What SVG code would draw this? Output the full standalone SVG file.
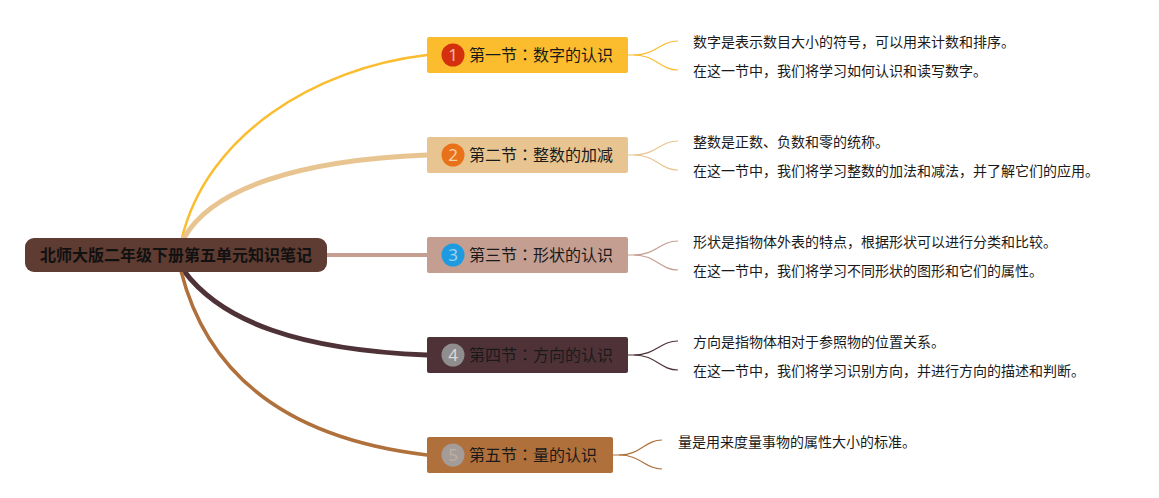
<svg xmlns="http://www.w3.org/2000/svg" width="1159" height="498" viewBox="0 0 1159 498">
<style>
text{font-family:"Noto Sans CJK SC","Liberation Sans",sans-serif;}
.nt{font-size:16px;fill:#1a1a1a;font-family:"Noto Sans CJK TC","Noto Sans CJK SC",sans-serif;}
.lf{font-size:14px;fill:#1a1a1a;}
.num{font-size:17px;text-anchor:middle;font-family:"Noto Sans","Liberation Sans",sans-serif;}
.c{fill:none;stroke-linecap:round;}
.lc{fill:none;stroke-width:1.2;}
</style>
<rect width="1159" height="498" fill="#ffffff"/>
<g id="connectors">
<path class="c" d="M182,238 C207,135 315,68 427,55" stroke="#FBBC2E" stroke-width="2.5"/>
<path class="c" d="M184,238 C212,188 300,160 427,155" stroke="#E8C590" stroke-width="5"/>
<path class="c" d="M327,255 L427,255" stroke="#C49E90" stroke-width="4"/>
<path class="c" d="M184,271 C222,322 300,350 427,355" stroke="#4E3237" stroke-width="5"/>
<path class="c" d="M181,271 C210,385 300,440 427,455" stroke="#B0703C" stroke-width="3.5"/>
<g stroke="#FBBC2E"><path class="lc" d="M628,55 L634,55 C656,55 660,41 678,41"/><path class="lc" d="M634,55 C656,55 660,70 678,70"/></g>
<g stroke="#E8C590"><path class="lc" d="M628,155 L634,155 C656,155 660,141 678,141"/><path class="lc" d="M634,155 C656,155 660,170 678,170"/></g>
<g stroke="#C49E90"><path class="lc" d="M628,255 L634,255 C656,255 660,241 678,241"/><path class="lc" d="M634,255 C656,255 660,270 678,270"/></g>
<g stroke="#4E3237"><path class="lc" d="M628,355 L634,355 C656,355 660,341 678,341"/><path class="lc" d="M634,355 C656,355 660,370 678,370"/></g>
<g stroke="#B0703C"><path class="lc" d="M613,455 L619,455 C641,455 645,440 662,440"/><path class="lc" d="M619,455 C641,455 645,469 662,469"/></g>
</g>
<g id="root">
<rect x="25" y="238" width="302" height="34" rx="9" fill="#5E3C31"/>
<text x="176" y="261" text-anchor="middle" style="font-size:16px;font-weight:bold;fill:#111">北师大版二年级下册第五单元知识笔记</text>
</g>
<g id="node1">
<rect x="427" y="37" width="201" height="36" rx="2" fill="#FBBC2E"/>
<circle cx="453" cy="55" r="11.5" fill="#D4300E"/>
<text class="num" x="453" y="61" fill="#F3B9A8">1</text>
<text class="nt" x="469" y="61">第一节：数字的认识</text>
</g>
<g id="node2">
<rect x="427" y="137" width="201" height="36" rx="2" fill="#E8C590"/>
<circle cx="453" cy="155" r="11.5" fill="#E8711A"/>
<text class="num" x="453" y="161" fill="#F8D2A8">2</text>
<text class="nt" x="469" y="161">第二节：整数的加减</text>
</g>
<g id="node3">
<rect x="427" y="237" width="201" height="36" rx="2" fill="#C49E90"/>
<circle cx="453" cy="255" r="11.5" fill="#1E9BE0"/>
<text class="num" x="453" y="261" fill="#9FD3F2">3</text>
<text class="nt" x="469" y="261">第三节：形状的认识</text>
</g>
<g id="node4">
<rect x="427" y="337" width="201" height="36" rx="2" fill="#4E3237"/>
<circle cx="453" cy="355" r="11.5" fill="#8F8D8D"/>
<text class="num" x="453" y="361" fill="#D8D8D8">4</text>
<text class="nt" x="469" y="361">第四节：方向的认识</text>
</g>
<g id="node5">
<rect x="427" y="437" width="186" height="36" rx="2" fill="#B0703C"/>
<circle cx="453" cy="455" r="11.5" fill="#A39C98"/>
<text class="num" x="453" y="461" fill="#C0AEA2">5</text>
<text class="nt" x="469" y="461">第五节：量的认识</text>
</g>
<g id="leaves">
<text class="lf" x="693" y="46.5">数字是表示数目大小的符号，可以用来计数和排序。</text>
<text class="lf" x="693" y="76">在这一节中，我们将学习如何认识和读写数字。</text>
<text class="lf" x="693" y="146.5">整数是正数、负数和零的统称。</text>
<text class="lf" x="693" y="176">在这一节中，我们将学习整数的加法和减法，并了解它们的应用。</text>
<text class="lf" x="693" y="246.5">形状是指物体外表的特点，根据形状可以进行分类和比较。</text>
<text class="lf" x="693" y="276">在这一节中，我们将学习不同形状的图形和它们的属性。</text>
<text class="lf" x="693" y="346.5">方向是指物体相对于参照物的位置关系。</text>
<text class="lf" x="693" y="376">在这一节中，我们将学习识别方向，并进行方向的描述和判断。</text>
<text class="lf" x="678" y="446.5">量是用来度量事物的属性大小的标准。</text>
</g>
</svg>
